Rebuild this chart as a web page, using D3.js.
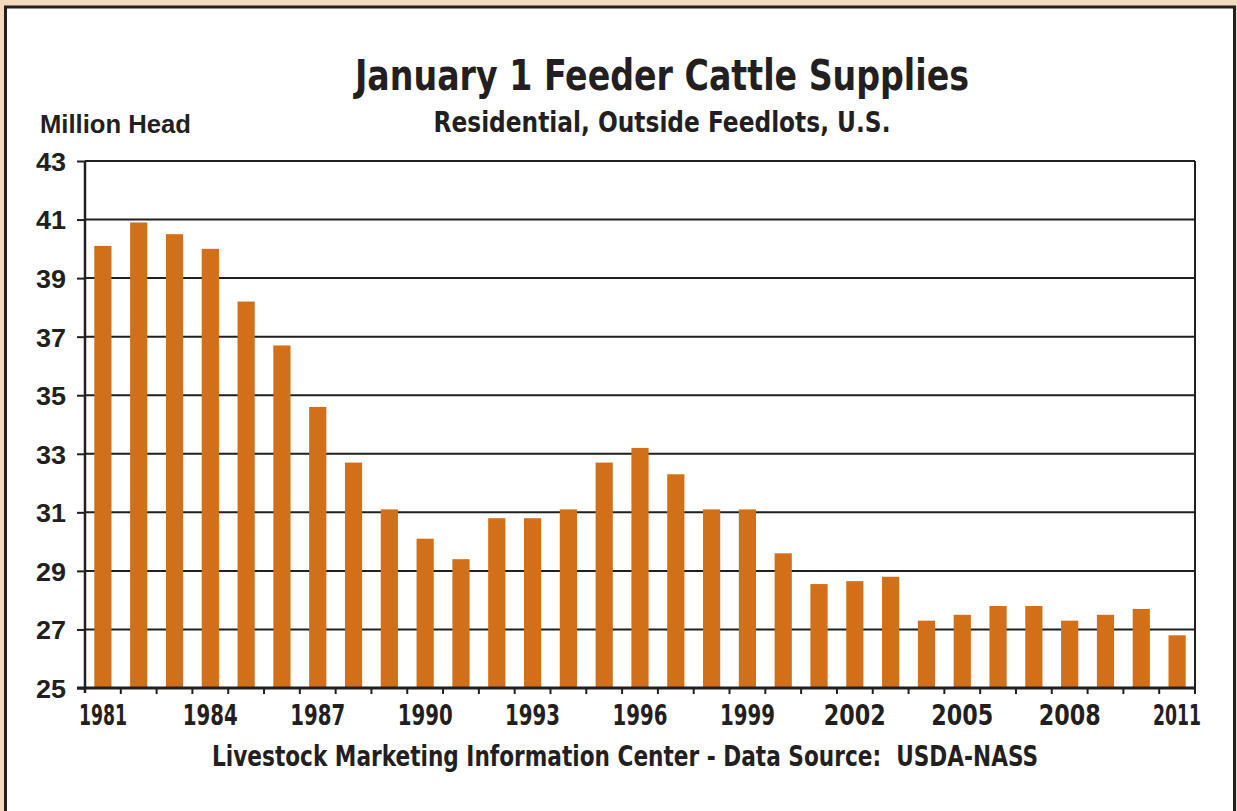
<!DOCTYPE html>
<html>
<head>
<meta charset="utf-8">
<script src="https://cdn.jsdelivr.net/npm/d3@7"></script>
<style>
  html, body { margin: 0; padding: 0; background: #f5d9bf; }
  svg { display: block; }
</style>
</head>
<body>
<div id="chart"></div>
<script>
// January 1 feeder cattle supplies, million head
var years = d3.range(1981, 2012);
var supplies = [40.1, 40.9, 40.5, 40.0, 38.2, 36.7, 34.6, 32.7, 31.1, 30.1,
                29.4, 30.8, 30.8, 31.1, 32.7, 33.2, 32.3, 31.1, 31.1, 29.6,
                28.55, 28.65, 28.8, 27.3, 27.5, 27.8, 27.8, 27.3, 27.5, 27.7,
                26.8];
var yTicks = [25, 27, 29, 31, 33, 35, 37, 39, 41, 43];
var labelYears = years.filter(function (y) { return (y - 1981) % 3 === 0; });

var title = "January 1 Feeder Cattle Supplies";
var subtitle = "Residential, Outside Feedlots, U.S.";
var yUnit = "Million Head";
var caption = "Livestock Marketing Information Center - Data Source:  USDA-NASS";

var width = 1237, height = 811;
var margin = { left: 85, top: 161, right: 42, bottom: 123 };
var ink = "#231f20";
var barColor = "#d2701a";
var condensed = '"Liberation Sans Narrow", "DejaVu Sans Condensed", "Arial Narrow", sans-serif';
var plain = '"Liberation Sans", Arial, Helvetica, sans-serif';

var svg = d3.select('#chart').append('svg')
    .attr('width', width)
    .attr('height', height);

// white panel with dark frame
svg.append('rect')
    .attr('x', 5.5).attr('y', 7)
    .attr('width', 1229).attr('height', 820)
    .attr('fill', '#fff')
    .attr('stroke', ink)
    .attr('stroke-width', 3);

var plotW = width - margin.left - margin.right,
    plotH = height - margin.top - margin.bottom;

var x = d3.scaleBand()
    .domain(years)
    .range([0, plotW])
    .paddingInner(0.52)
    .paddingOuter(0.26);

var y = d3.scaleLinear()
    .domain([25, 43])
    .range([plotH, 0]);

var g = svg.append('g')
    .attr('transform', 'translate(' + margin.left + ',' + margin.top + ')');

// gridlines
g.append('g').selectAll('line')
    .data(yTicks)
    .enter().append('line')
    .attr('x1', 0).attr('x2', plotW)
    .attr('y1', function (d) { return y(d); })
    .attr('y2', function (d) { return y(d); })
    .attr('stroke', ink)
    .attr('stroke-width', 2);

// bars
g.append('g').selectAll('rect')
    .data(supplies)
    .enter().append('rect')
    .attr('x', function (d, i) { return x(years[i]); })
    .attr('y', function (d) { return y(d); })
    .attr('width', x.bandwidth())
    .attr('height', function (d) { return plotH - y(d); })
    .attr('fill', barColor);

// plot frame
g.append('line').attr('x1', plotW).attr('x2', plotW).attr('y1', 0).attr('y2', plotH)
    .attr('stroke', ink).attr('stroke-width', 2);
g.append('line').attr('x1', 0).attr('x2', 0).attr('y1', 0).attr('y2', plotH + 5)
    .attr('stroke', ink).attr('stroke-width', 2.5);
g.append('line').attr('x1', -8).attr('x2', plotW).attr('y1', plotH).attr('y2', plotH)
    .attr('stroke', ink).attr('stroke-width', 3);

// y axis
var yAxis = g.append('g')
    .call(d3.axisLeft(y).tickValues(yTicks).tickSize(8).tickPadding(11));
yAxis.select('.domain').remove();
yAxis.selectAll('line').attr('stroke', ink).attr('stroke-width', 2);
yAxis.selectAll('text')
    .attr('fill', ink)
    .attr('dy', '0.36em')
    .attr('textLength', 30)
    .attr('lengthAdjust', 'spacingAndGlyphs')
    .style('font-family', plain)
    .style('font-weight', 'bold')
    .style('font-size', '26px');

// x ticks at slot boundaries
var step = x.step();
g.append('g').selectAll('line')
    .data(years.slice(1).concat([years[years.length - 1] + 1]))
    .enter().append('line')
    .attr('x1', function (d, i) { return x(years[0]) - step * 0.26 + (i + 1) * step; })
    .attr('x2', function (d, i) { return x(years[0]) - step * 0.26 + (i + 1) * step; })
    .attr('y1', plotH).attr('y2', plotH + 6)
    .attr('stroke', ink).attr('stroke-width', 2);

var xAxis = g.append('g')
    .attr('transform', 'translate(0,' + plotH + ')')
    .call(d3.axisBottom(x).tickValues(labelYears).tickSize(0).tickPadding(14));
xAxis.select('.domain').remove();
xAxis.selectAll('text')
    .attr('fill', ink)
    .attr('dy', 23)
    // the original face has a narrow "1"
    .attr('textLength', function (d) { return 62 - 7 * (String(d).split('1').length - 1); })
    .attr('lengthAdjust', 'spacingAndGlyphs')
    .style('font-family', condensed)
    .style('font-weight', 'bold')
    .style('font-size', '29px');

// titles
svg.append('text')
    .attr('x', 662).attr('y', 90)
    .attr('text-anchor', 'middle')
    .attr('textLength', 614)
    .attr('lengthAdjust', 'spacingAndGlyphs')
    .attr('fill', ink)
    .style('font-family', condensed)
    .style('font-weight', 'bold')
    .style('font-size', '42px')
    .text(title);

svg.append('text')
    .attr('x', 662).attr('y', 132)
    .attr('text-anchor', 'middle')
    .attr('textLength', 457)
    .attr('lengthAdjust', 'spacingAndGlyphs')
    .attr('fill', ink)
    .style('font-family', condensed)
    .style('font-weight', 'bold')
    .style('font-size', '28px')
    .text(subtitle);

svg.append('text')
    .attr('x', 40).attr('y', 133)
    .attr('textLength', 151)
    .attr('lengthAdjust', 'spacingAndGlyphs')
    .attr('fill', ink)
    .style('font-family', plain)
    .style('font-weight', 'bold')
    .style('font-size', '26px')
    .text(yUnit);

svg.append('text')
    .attr('x', 625).attr('y', 766)
    .attr('text-anchor', 'middle')
    .attr('textLength', 826)
    .attr('lengthAdjust', 'spacingAndGlyphs')
    .attr('fill', ink)
    .style('white-space', 'pre')
    .style('font-family', condensed)
    .style('font-weight', 'bold')
    .style('font-size', '28px')
    .text(caption);
</script>
</body>
</html>
